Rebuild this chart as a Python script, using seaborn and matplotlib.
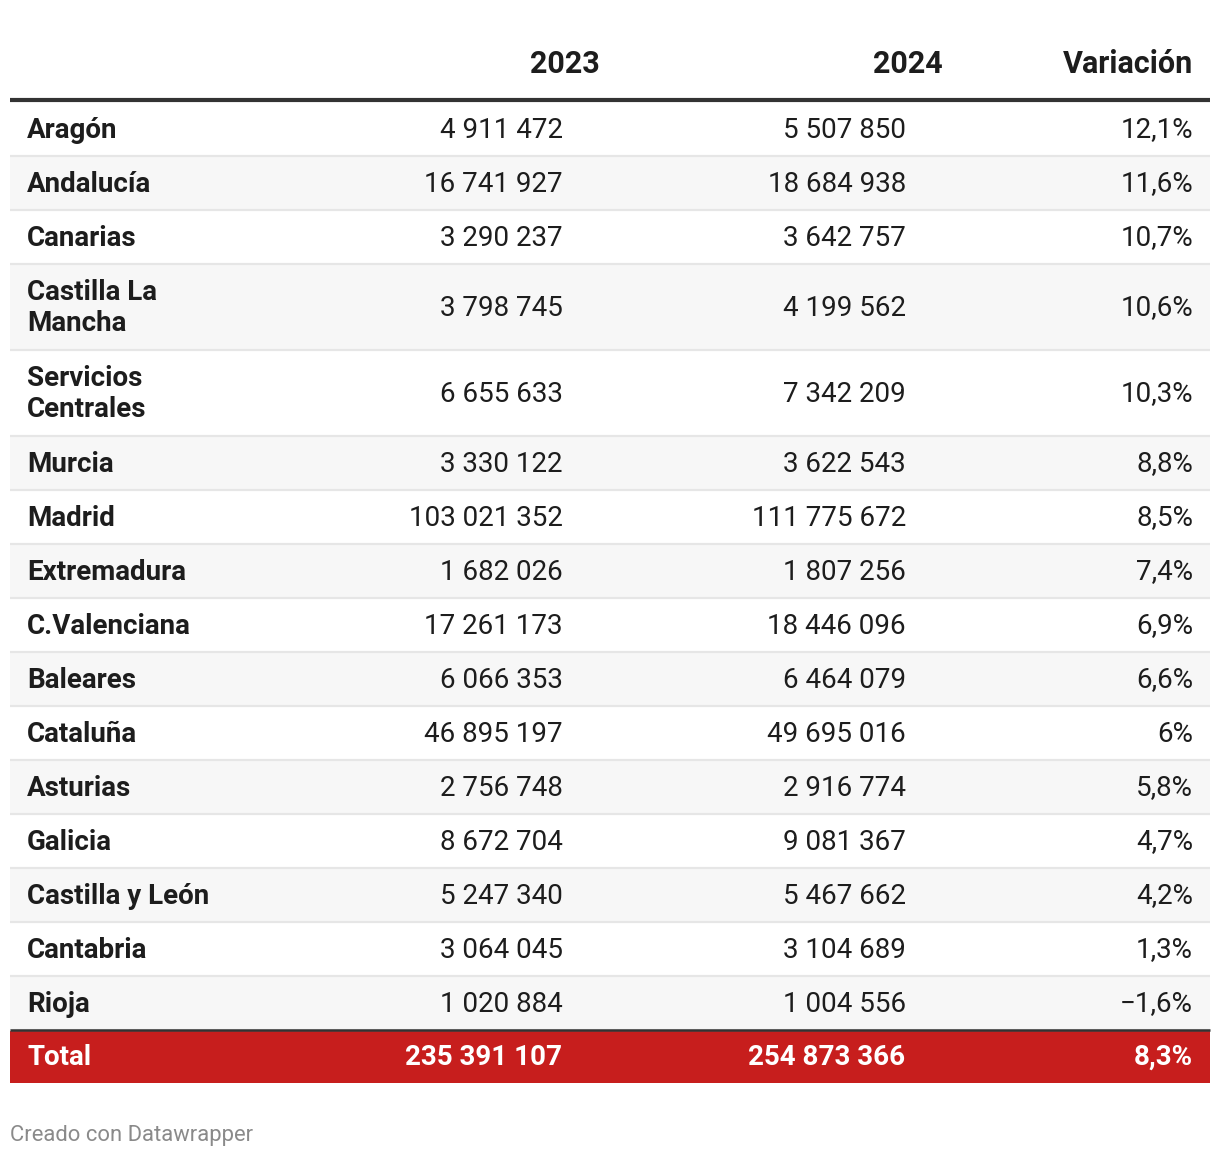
import matplotlib
matplotlib.use("Agg")
import matplotlib.pyplot as plt
import seaborn as sns

regions = ["Aragón", "Andalucía", "Canarias", "Castilla La\nMancha", "Servicios\nCentrales",
           "Murcia", "Madrid", "Extremadura", "C.Valenciana", "Baleares", "Cataluña",
           "Asturias", "Galicia", "Castilla y León", "Cantabria", "Rioja"]
v2023 = [4911472, 16741927, 3290237, 3798745, 6655633, 3330122, 103021352, 1682026,
         17261173, 6066353, 46895197, 2756748, 8672704, 5247340, 3064045, 1020884]
v2024 = [5507850, 18684938, 3642757, 4199562, 7342209, 3622543, 111775672, 1807256,
         18446096, 6464079, 49695016, 2916774, 9081367, 5467662, 3104689, 1004556]
variation = [12.1, 11.6, 10.7, 10.6, 10.3, 8.8, 8.5, 7.4, 6.9, 6.6, 6.0, 5.8, 4.7, 4.2, 1.3, -1.6]
headers = ["2023", "2024", "Variación"]
total_label = "Total"
total_2023 = 235391107
total_2024 = 254873366
total_var = 8.3
footer = "Creado con Datawrapper"


def fmt_num(n):
    return f"{n:,}".replace(",", " ")


def fmt_pct(p):
    s = f"{abs(p):.1f}".replace(".", ",")
    if s.endswith(",0"):
        s = s[:-2]
    return ("−" if p < 0 else "") + s + "%"


sns.set_theme(style="white")
plt.rcParams["font.family"] = ["Roboto", "DejaVu Sans"]

W, H = 1220, 1158
fig = plt.figure(figsize=(W / 100, H / 100), dpi=100)
ax = fig.add_axes([0, 0, 1, 1])
ax.set_xlim(0, W)
ax.set_ylim(H, 0)
ax.axis("off")

left, right = 10, 1210
col_x = [563, 906, 1193]
head_x = [600, 943, 1193]
text_c = "#1d1d1d"
body_fs = 20
head_fs = 22

# header
for hx, h in zip(head_x, headers):
    ax.text(hx, 64, h, ha="right", va="center", fontsize=head_fs, fontweight="bold", color=text_c)

y = 102
single, double = 54, 86
for i, name in enumerate(regions):
    h = double if "\n" in name else single
    if i % 2 == 1:
        ax.fill_between([left, right], y, y + h, color="#f7f7f7", lw=0, zorder=0)
    ax.plot([left, right], [y + h, y + h], color="#e6e6e6", lw=1.6, zorder=1, solid_capstyle="butt")
    cy = y + h / 2
    ax.text(27, cy + 1, name, ha="left", va="center", fontsize=body_fs, fontweight="bold",
            color=text_c, linespacing=1.15)
    ax.text(col_x[0], cy + 1, fmt_num(v2023[i]), ha="right", va="center", fontsize=body_fs, color=text_c)
    ax.text(col_x[1], cy + 1, fmt_num(v2024[i]), ha="right", va="center", fontsize=body_fs, color=text_c)
    ax.text(col_x[2], cy + 1, fmt_pct(variation[i]), ha="right", va="center", fontsize=body_fs, color=text_c)
    y += h

# total row
ax.fill_between([left, right], y, y + 53, color="#c71e1d", lw=0, zorder=0)
ax.plot([left, right], [y, y], color="#333333", lw=1.8, zorder=2, solid_capstyle="butt")
cy = y + 53 / 2
ax.text(27, cy + 1, total_label, ha="left", va="center", fontsize=body_fs, fontweight="bold", color="white")
ax.text(col_x[0] - 1, cy + 1, fmt_num(total_2023), ha="right", va="center", fontsize=body_fs, fontweight="bold", color="white")
ax.text(col_x[1] - 1, cy + 1, fmt_num(total_2024), ha="right", va="center", fontsize=body_fs, fontweight="bold", color="white")
ax.text(col_x[2], cy + 1, fmt_pct(total_var), ha="right", va="center", fontsize=body_fs, fontweight="bold", color="white")

# header rule
ax.plot([left, right], [100, 100], color="#333333", lw=3, zorder=2, solid_capstyle="butt")

ax.text(10, 1135, footer, ha="left", va="center", fontsize=15.8, color="#8a8a8a")

fig.savefig("out.png", dpi=100, facecolor="white")
